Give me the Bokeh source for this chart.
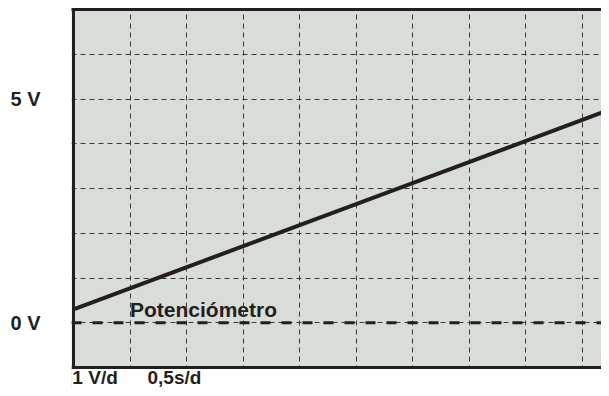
from bokeh.plotting import figure
from bokeh.models import Range1d, FixedTicker, LinearAxis, Span, BoxAnnotation
from bokeh.core.properties import value
from bokeh.embed import file_html
from bokeh.resources import INLINE

# --- data ---
time_s = [0.0, 5.0]              # seconds
pot_volts = [0.3, 5.0]           # potentiometer voltage (V)
zero_level = 0.0                 # 0 V reference trace
time_grid = [0.5, 1.0, 1.5, 2.0, 2.5, 3.0, 3.5, 4.0, 4.5]   # 0.5 s/div
volt_grid = [0, 1, 2, 3, 4, 5, 6]                            # 1 V/div
screen_bottom, screen_top = -1, 7                            # graticule limits (V)
screen_left = 0.0                                            # graticule left (s)
volt_ticks = [0, 5]
volt_tick_labels = {0: "0 V", 5: "5 V"}
trace_label = "Potenciómetro"
scale_labels = ["1 V/d", "0,5s/d"]

INK = "#231f20"
FONT = "Liberation Sans"

W, H = 601, 388
FRAME_LEFT, TOP = 71, 9
PX_PER_S = 113.0      # 56.5 px per 0.5 s division
PX_PER_V = 44.75
x0_px = 73            # pixel of t = 0
x_start = -(x0_px - FRAME_LEFT) / PX_PER_S
x_end = (W - x0_px) / PX_PER_S
grid_bottom_px = TOP + (screen_top - screen_bottom) * PX_PER_V
y_start = screen_bottom - (H - grid_bottom_px) / PX_PER_V

p = figure(width=W, height=H, output_backend="svg", toolbar_location=None,
           x_range=Range1d(x_start, x_end), y_range=Range1d(y_start, screen_top),
           x_axis_location=None, y_axis_location=None,
           min_border_left=FRAME_LEFT, min_border_right=0, min_border_top=TOP,
           min_border_bottom=0)
p.background_fill_color = "#d9ddd8"
p.border_fill_color = "white"
p.outline_line_color = None

# grid
for g, t in ((p.xgrid, time_grid), (p.ygrid, volt_grid)):
    g.ticker = FixedTicker(ticks=t)
    g.grid_line_color = "#3a3a3a"
    g.grid_line_dash = "5 4"
    g.grid_line_width = 1

# left axis: only the "0 V" / "5 V" labels
ya = LinearAxis(ticker=FixedTicker(ticks=volt_ticks), major_label_overrides=volt_tick_labels)
ya.axis_line_color = None
ya.major_tick_line_color = None
ya.minor_tick_line_color = None
ya.major_tick_out = 0
ya.major_tick_in = 0
ya.major_label_standoff = 31
ya.major_label_text_font = FONT
ya.major_label_text_font_style = "bold"
ya.major_label_text_font_size = "20px"
ya.major_label_text_color = INK
p.add_layout(ya, "left")

# top border
ta = LinearAxis(ticker=FixedTicker(ticks=[]))
ta.axis_line_width = 3
ta.axis_line_color = INK
ta.major_tick_line_color = None
ta.minor_tick_line_color = None
ta.major_tick_out = 0
ta.major_tick_in = 0
ta.major_label_standoff = 0
ta.major_label_text_font_size = "0px"
p.add_layout(ta, "above")

# zero reference
p.add_layout(Span(location=zero_level, dimension="width", line_color=INK,
                  line_width=3, line_dash="10 11"))
# left border of the screen
p.add_layout(Span(location=screen_left, dimension="height", line_color=INK, line_width=3))

# potentiometer trace
p.line(time_s, pot_volts, line_width=4, line_color=INK)

p.text(x=[0.5], y=[0.3], text=[trace_label], text_font=value(FONT),
       text_font_style="bold", text_font_size="21px", text_color=INK,
       text_align="left", text_baseline="alphabetic")

# white area below the screen + bottom border
p.add_layout(BoxAnnotation(top=screen_bottom, fill_color="white", fill_alpha=1.0,
                           line_color=None))
p.add_layout(Span(location=screen_bottom, dimension="width", line_color=INK, line_width=3))

# scale captions below the screen
cap_x = [-0.01, 0.655]
cap_y = [screen_bottom - 10 / PX_PER_V] * 2
p.text(x=cap_x, y=cap_y, text=scale_labels, text_font=value(FONT),
       text_font_style="bold", text_font_size="19px", text_color=INK,
       text_align="left", text_baseline="alphabetic", level="overlay")

open("out.html", "w").write(file_html(p, INLINE))
